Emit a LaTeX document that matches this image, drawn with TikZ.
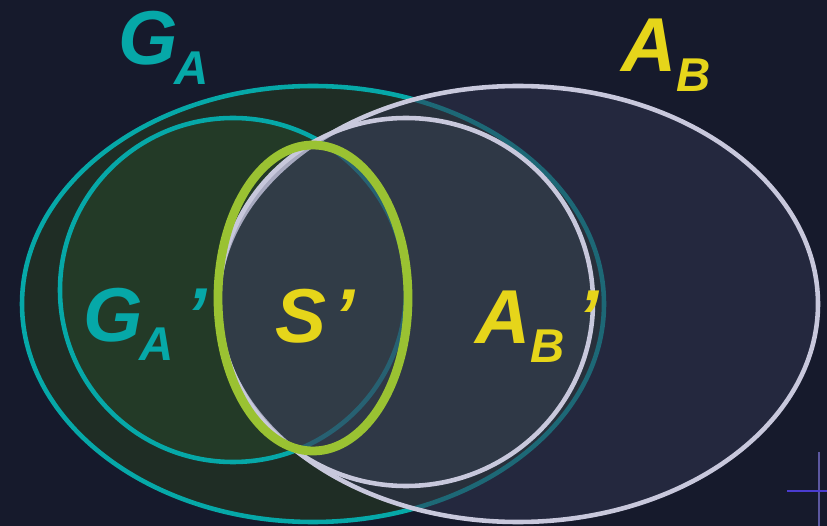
\documentclass[tikz,border=0pt]{standalone}
\usepackage{fontspec}
\setmainfont{Liberation Sans}
\usetikzlibrary{positioning}
\definecolor{bgnavy}{HTML}{161A2C}
\definecolor{tealset}{HTML}{06A8A8}
\definecolor{lavset}{HTML}{C8C8DC}
\definecolor{limeset}{HTML}{9AC232}
\definecolor{yellowlab}{HTML}{E6D51A}
\definecolor{greenfill}{HTML}{1F2D25}
\definecolor{greenfillin}{HTML}{233A27}
\definecolor{bluefill}{HTML}{30344E}
\definecolor{bluefillin}{HTML}{46506A}
\definecolor{crossv}{HTML}{5C58A0}
\definecolor{crossh}{HTML}{4A3CD0}
\newcommand{\sublab}[1]{\raisebox{-11pt}{\fontsize{27}{27}\selectfont #1}}

\begin{document}
\begin{tikzpicture}[x=0.02cm, y=-0.02cm,
  lab/.style={inner sep=0, anchor=base west, font=\fontsize{43.5}{43.5}\selectfont\bfseries\itshape},
  ring/.style={line width=2.6pt}]
% Background and picture size
\fill [bgnavy] (0,0) rectangle (827,526);
\useasboundingbox (0,0) rectangle (827,526);
% The two large sets
\draw [ring, tealset, fill=greenfill] (313,304) ellipse [x radius=291, y radius=218];
\draw [ring, tealset, fill=greenfillin] (233,290) ellipse [x radius=173, y radius=172];
\draw [ring, lavset, fill=bluefill, fill opacity=.55] (518,304) ellipse [x radius=300, y radius=218];
\draw [ring, lavset, fill=bluefillin, fill opacity=.25] (406,302) ellipse [x radius=187, y radius=184];
% The thick ellipse in the middle
\draw [limeset, line width=5pt] (313,298) ellipse [x radius=95, y radius=153];
% Labels
\node [lab, tealset] (ga) at (118,65) {G\kern-2pt\sublab{A}};
\node [lab, yellowlab] (ab) at (621,72) {A\sublab{B}};
\node [lab, tealset] (gap) at (83,341) {G\kern-2pt\sublab{A}\kern7pt’};
\node [lab, yellowlab] (sp) at (275,342) {S\kern4pt’};
\node [lab, yellowlab] (abp) at (475,343) {A\sublab{B}\kern7pt’};
% Small cross in the corner
\draw [crossv, line width=1.2pt] (819,452) -- (819,526);
\draw [crossh, line width=1.2pt] (787,491) -- (827,491);
\end{tikzpicture}
\end{document}
